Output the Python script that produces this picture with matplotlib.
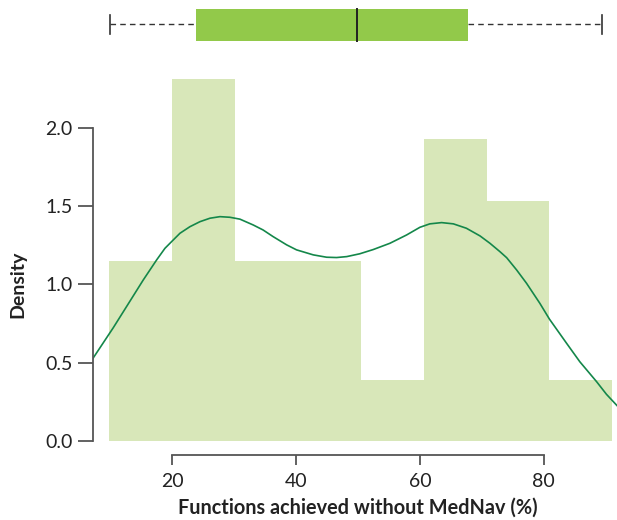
import matplotlib
matplotlib.use("Agg")
import matplotlib.pyplot as plt
import numpy as np

plt.rcParams['font.family'] = ['Lato', 'DejaVu Sans']

# Histogram of functions achieved (%), density scale
bin_edges = [9.85, 20.0, 30.15, 40.3, 50.45, 60.6, 70.75, 80.9, 91.05]
bin_density = [1.15, 2.31, 1.15, 1.15, 0.39, 1.93, 1.53, 0.39]

# Kernel density curve
kde_x = [7.26, 10.53, 13.34, 15.37, 17.53, 18.87, 19.95, 21.29, 22.9, 24.52,
         26.13, 27.74, 29.35, 30.97, 33.1, 34.7, 36.3, 38.5, 40.1, 42.8,
         44.95, 46.56, 48.2, 50.3, 52.47, 55.16, 57.85, 60.0, 61.6, 63.5,
         65.4, 67.5, 69.7, 71.3, 72.9, 74.0, 75.6, 77.2, 79.35, 80.9,
         83.66, 85.8, 88.5, 90.1, 91.8]
kde_y = [0.528, 0.723, 0.900, 1.028, 1.156, 1.230, 1.273, 1.326, 1.368, 1.400,
         1.422, 1.432, 1.428, 1.416, 1.379, 1.347, 1.305, 1.252, 1.220, 1.188,
         1.173, 1.171, 1.177, 1.195, 1.222, 1.262, 1.315, 1.364, 1.386, 1.394,
         1.386, 1.358, 1.309, 1.262, 1.209, 1.170, 1.092, 1.007, 0.879, 0.778,
         0.624, 0.506, 0.379, 0.298, 0.226]

# Box plot summary
whisker_lo, q1, median, q3, whisker_hi = 10.0, 23.9, 49.8, 67.7, 89.3

xticks = [20, 40, 60, 80]
yticks = [0.0, 0.5, 1.0, 1.5, 2.0]

W, H = 617, 520
fig = plt.figure(figsize=(W / 100, H / 100), dpi=100)

xlim = (7.26, 91.8)
ylim = (-0.0894, 2.4)
bar_color = '#d8e7b9'
line_color = '#14874a'
axis_color = '#555555'
text_color = '#222222'

# Main histogram axes
ax = fig.add_axes([93 / W, (H - 455) / H, (617 - 93) / W, (455 - 65) / H])
widths = np.diff(bin_edges)
ax.bar(bin_edges[:-1], bin_density, width=widths, align='edge',
       color=bar_color, edgecolor='none', linewidth=0)
ax.plot(kde_x, kde_y, color=line_color, lw=1.2, clip_on=True,
        solid_joinstyle='round')
ax.set_xlim(*xlim)
ax.set_ylim(*ylim)

for s in ['top', 'right']:
    ax.spines[s].set_visible(False)
ax.spines['left'].set_bounds(0, 2.0)
ax.spines['bottom'].set_bounds(20, 80)
for s in ['left', 'bottom']:
    ax.spines[s].set_color(axis_color)
    ax.spines[s].set_linewidth(1.3)
ax.set_xticks(xticks)
ax.set_xticklabels([str(t) for t in xticks])
ax.set_yticks(yticks)
ax.set_yticklabels([f"{t:.1f}" for t in yticks])
ax.tick_params(axis='both', direction='out', width=1.3,
               color=axis_color, labelsize=14, labelcolor=text_color)
ax.tick_params(axis='x', length=7.2, pad=6)
ax.tick_params(axis='y', length=10.5, pad=4)

ax.set_xlabel('Functions achieved without MedNav (%)', fontsize=14.3,
              fontweight='bold', color=text_color)
ax.set_ylabel('Density', fontsize=14.0, fontweight='bold', color=text_color)

# Centre axis titles on the drawn spine ranges
def to_axes(xd, yd):
    return ((xd - xlim[0]) / (xlim[1] - xlim[0]),
            (yd - ylim[0]) / (ylim[1] - ylim[0]))

xc, _ = to_axes(50, 0)
_, yc = to_axes(0, 1.0)
ax_h_px = 455 - 65
ax_w_px = 617 - 93
ax.xaxis.set_label_coords(xc, -(508 - 455) / ax_h_px)
ax.yaxis.set_label_coords(-(93 - 18) / ax_w_px, yc)
ax.xaxis.label.set_va('center')
ax.yaxis.label.set_va('center')

# Box plot strip above
bx = fig.add_axes([93 / W, (H - 50) / H, (617 - 93) / W, 50 / H])
bx.set_xlim(*xlim)
bx.set_ylim(50, 0)
bx.axis('off')
bx.add_patch(plt.Rectangle((q1, 9), q3 - q1, 31.7, facecolor='#92c94a',
                           edgecolor='none'))
bx.plot([median, median], [9, 40.7], color=text_color, lw=1.4)
bx.plot([whisker_lo, q1], [24, 24], color='#333333', lw=1.0, ls=(0, (4, 3)))
bx.plot([q3, whisker_hi], [24, 24], color='#333333', lw=1.0, ls=(0, (4, 3)))
bx.plot([whisker_lo, whisker_lo], [15, 34], color='#333333', lw=1.2)
bx.plot([whisker_hi, whisker_hi], [15, 34], color='#333333', lw=1.2)

fig.savefig('out.png', dpi=100)
